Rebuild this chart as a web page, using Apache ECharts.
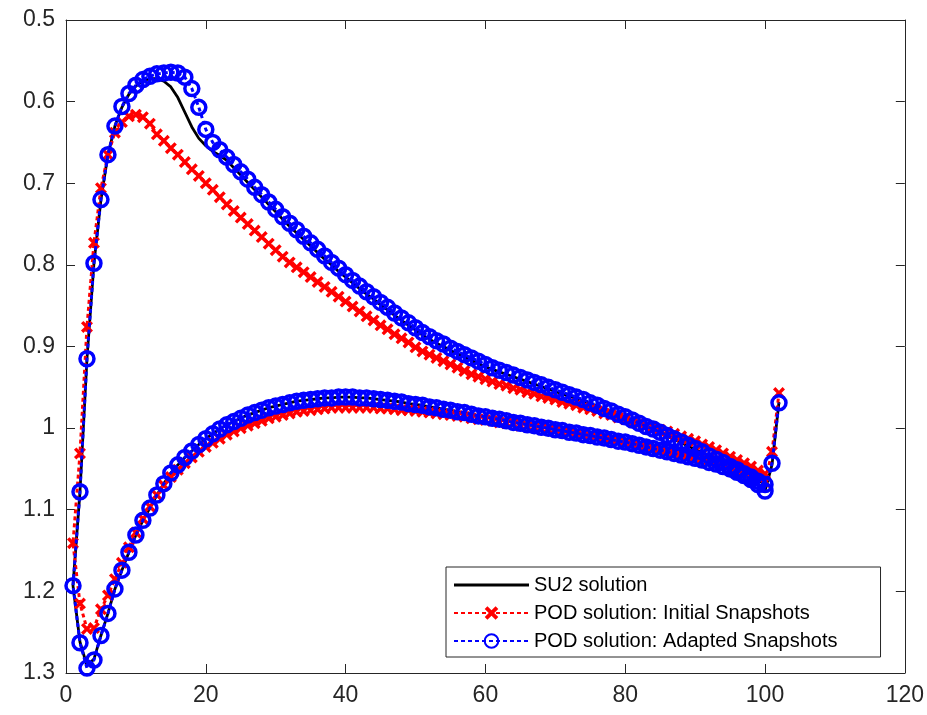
<!DOCTYPE html>
<html>
<head>
<meta charset="utf-8">
<script src="https://cdn.jsdelivr.net/npm/echarts@6.0.0/dist/echarts.min.js"></script>
<style>
    html, body { margin: 0; padding: 0; background: #fff; }
    #chart { width: 927px; height: 715px; }
</style>
</head>
<body>
<div id="chart"></div>
<script>
(function () {
    'use strict';

    var xTicks = [0, 20, 40, 60, 80, 100, 120];
    var yTicks = [0.5, 0.6, 0.7, 0.8, 0.9, 1.0, 1.1, 1.2, 1.3];

    var seriesNames = ['SU2 solution', 'POD solution: Initial Snapshots', 'POD solution: Adapted Snapshots'];

    // upper branch: point 1..100, lower branch: point 2..100, trailing edge: 101, 102
    var su2Upper = [
        1.193, 1.078, 0.915, 0.798, 0.720, 0.665, 0.630, 0.607, 0.591, 0.581,
        0.574, 0.572, 0.572, 0.575, 0.582, 0.595, 0.613, 0.631, 0.645, 0.654,
        0.661, 0.666, 0.672, 0.681, 0.690, 0.699, 0.708, 0.717, 0.726, 0.735,
        0.744, 0.753, 0.761, 0.769, 0.777, 0.785, 0.793, 0.800, 0.808, 0.815,
        0.822, 0.829, 0.836, 0.842, 0.849, 0.855, 0.862, 0.868, 0.874, 0.880,
        0.886, 0.891, 0.896, 0.900, 0.905, 0.909, 0.913, 0.917, 0.921, 0.925,
        0.928, 0.931, 0.934, 0.937, 0.940, 0.943, 0.946, 0.949, 0.952, 0.955,
        0.958, 0.961, 0.964, 0.967, 0.970, 0.973, 0.977, 0.980, 0.984, 0.987,
        0.991, 0.995, 0.998, 1.002, 1.006, 1.010, 1.014, 1.018, 1.022, 1.026,
        1.030, 1.034, 1.038, 1.042, 1.047, 1.051, 1.055, 1.059, 1.064, 1.068
    ];
    var su2Lower = [
        1.262, 1.291, 1.283, 1.254, 1.227, 1.197, 1.174, 1.152, 1.131,
        1.113, 1.098, 1.082, 1.068, 1.055, 1.045, 1.036, 1.028, 1.020, 1.013,
        1.007, 1.001, 0.996, 0.992, 0.988, 0.984, 0.981, 0.978, 0.975, 0.973,
        0.971, 0.969, 0.967, 0.966, 0.965, 0.964, 0.963, 0.963, 0.962, 0.962,
        0.962, 0.963, 0.963, 0.964, 0.965, 0.966, 0.967, 0.968, 0.970, 0.971,
        0.972, 0.974, 0.975, 0.977, 0.978, 0.980, 0.981, 0.983, 0.985, 0.986,
        0.988, 0.989, 0.991, 0.993, 0.994, 0.996, 0.997, 0.999, 1.000, 1.002,
        1.003, 1.005, 1.006, 1.008, 1.009, 1.011, 1.012, 1.014, 1.016, 1.017,
        1.019, 1.021, 1.023, 1.025, 1.027, 1.029, 1.031, 1.033, 1.035, 1.037,
        1.039, 1.042, 1.044, 1.047, 1.050, 1.054, 1.058, 1.063, 1.069, 1.077
    ];
    var su2Trail = [1.045, 0.968];

    var initUpper = [
        1.141, 1.031, 0.876, 0.773, 0.706, 0.665, 0.638, 0.625, 0.618, 0.616,
        0.619, 0.627, 0.640, 0.648, 0.657, 0.665, 0.674, 0.683, 0.691, 0.700,
        0.708, 0.717, 0.726, 0.734, 0.742, 0.750, 0.758, 0.766, 0.774, 0.782,
        0.790, 0.797, 0.803, 0.809, 0.815, 0.821, 0.827, 0.833, 0.839, 0.845,
        0.851, 0.857, 0.863, 0.868, 0.874, 0.879, 0.885, 0.890, 0.895, 0.901,
        0.906, 0.910, 0.914, 0.918, 0.922, 0.926, 0.930, 0.934, 0.937, 0.940,
        0.943, 0.946, 0.948, 0.951, 0.953, 0.956, 0.958, 0.961, 0.963, 0.965,
        0.968, 0.970, 0.972, 0.975, 0.977, 0.979, 0.982, 0.984, 0.987, 0.989,
        0.992, 0.994, 0.997, 0.999, 1.002, 1.004, 1.007, 1.010, 1.013, 1.016,
        1.020, 1.023, 1.027, 1.031, 1.035, 1.039, 1.043, 1.047, 1.052, 1.056
    ];
    var initLower = [
        1.215, 1.246, 1.245, 1.222, 1.205, 1.185, 1.165, 1.146, 1.128,
        1.111, 1.096, 1.082, 1.070, 1.060, 1.051, 1.043, 1.036, 1.029, 1.023,
        1.018, 1.013, 1.008, 1.004, 1.000, 0.997, 0.994, 0.991, 0.988, 0.986,
        0.984, 0.982, 0.980, 0.979, 0.978, 0.977, 0.976, 0.975, 0.975, 0.975,
        0.975, 0.975, 0.975, 0.975, 0.976, 0.976, 0.977, 0.978, 0.978, 0.979,
        0.980, 0.981, 0.982, 0.983, 0.984, 0.985, 0.986, 0.988, 0.989, 0.990,
        0.991, 0.993, 0.994, 0.995, 0.997, 0.998, 0.999, 1.001, 1.002, 1.003,
        1.005, 1.006, 1.007, 1.009, 1.010, 1.012, 1.013, 1.015, 1.016, 1.018,
        1.019, 1.021, 1.022, 1.024, 1.026, 1.027, 1.029, 1.031, 1.033, 1.035,
        1.037, 1.039, 1.041, 1.043, 1.045, 1.048, 1.051, 1.055, 1.060, 1.066
    ];
    var initTrail = [1.029, 0.957];

    var adaptUpper = [
        1.193, 1.078, 0.915, 0.798, 0.720, 0.665, 0.630, 0.606, 0.590, 0.580,
        0.573, 0.569, 0.566, 0.565, 0.564, 0.565, 0.570, 0.584, 0.607, 0.634,
        0.650, 0.659, 0.668, 0.677, 0.686, 0.695, 0.705, 0.714, 0.723, 0.732,
        0.741, 0.749, 0.757, 0.765, 0.773, 0.781, 0.789, 0.797, 0.804, 0.812,
        0.819, 0.826, 0.833, 0.839, 0.846, 0.852, 0.859, 0.865, 0.871, 0.877,
        0.883, 0.888, 0.893, 0.897, 0.902, 0.906, 0.910, 0.914, 0.918, 0.922,
        0.926, 0.929, 0.932, 0.935, 0.938, 0.941, 0.944, 0.947, 0.950, 0.953,
        0.956, 0.959, 0.962, 0.965, 0.969, 0.972, 0.976, 0.979, 0.983, 0.986,
        0.990, 0.994, 0.998, 1.001, 1.005, 1.009, 1.013, 1.017, 1.021, 1.025,
        1.029, 1.034, 1.038, 1.042, 1.047, 1.051, 1.056, 1.060, 1.065, 1.069
    ];
    var adaptLower = [
        1.263, 1.294, 1.284, 1.254, 1.227, 1.197, 1.174, 1.152, 1.131,
        1.113, 1.098, 1.082, 1.068, 1.055, 1.045, 1.036, 1.028, 1.020, 1.013,
        1.007, 1.001, 0.996, 0.992, 0.988, 0.984, 0.981, 0.978, 0.975, 0.973,
        0.971, 0.969, 0.967, 0.966, 0.965, 0.964, 0.963, 0.963, 0.962, 0.962,
        0.962, 0.963, 0.963, 0.964, 0.965, 0.966, 0.967, 0.968, 0.970, 0.971,
        0.972, 0.974, 0.975, 0.977, 0.978, 0.980, 0.981, 0.983, 0.985, 0.986,
        0.988, 0.989, 0.991, 0.993, 0.994, 0.996, 0.997, 0.999, 1.000, 1.002,
        1.003, 1.005, 1.006, 1.008, 1.009, 1.011, 1.012, 1.014, 1.016, 1.017,
        1.019, 1.021, 1.023, 1.025, 1.027, 1.029, 1.031, 1.033, 1.035, 1.037,
        1.039, 1.042, 1.044, 1.047, 1.050, 1.054, 1.058, 1.063, 1.069, 1.077
    ];
    var adaptTrail = [1.043, 0.969];

    var AXIS_COLOR = '#262626';
    var FONT = '"Liberation Sans", Arial, Helvetica, sans-serif';
    var CROSS = 'path://M0,2 L2,0 L5,3 L8,0 L10,2 L7,5 L10,8 L8,10 L5,7 L2,10 L0,8 L3,5 Z';

    paint('chart');

    // walk the surface: upper branch back to the leading edge, then the lower one out to the trailing edge
    function buildLoop(upper, lower, trail) {
        var points = [];
        for (var i = upper.length - 1; i >= 0; i--) {
            points.push([i + 1, upper[i]]);
        }
        for (var j = 0; j < lower.length; j++) {
            points.push([j + 2, lower[j]]);
        }
        for (var k = 0; k < trail.length; k++) {
            points.push([lower.length + 2 + k, trail[k]]);
        }
        return points;
    }

    function buildAxis(ticks, position, showLabel, inverse) {
        return {
            type: 'value',
            position: position,
            min: ticks[0],
            max: ticks[ticks.length - 1],
            interval: ticks[1] - ticks[0],
            inverse: inverse,
            axisLine: {show: true, onZero: false, lineStyle: {color: AXIS_COLOR, width: 1}},
            axisTick: {show: true, inside: true, length: 9, lineStyle: {color: AXIS_COLOR, width: 1}},
            axisLabel: {
                show: showLabel,
                color: AXIS_COLOR,
                fontSize: 23,
                fontFamily: FONT,
                margin: 11,
                formatter: function (v) {
                    return String(+v.toFixed(1));
                }
            },
            splitLine: {show: false}
        };
    }

    function paint(domId) {
        var chart = echarts.init(document.getElementById(domId), null, {renderer: 'canvas'});
        var option = {
            animation: false,
            backgroundColor: '#fff',
            grid: {left: 66, top: 20, right: 18, bottom: 42, containLabel: false},
            xAxis: [
                buildAxis(xTicks, 'bottom', true, false),
                buildAxis(xTicks, 'top', false, false)
            ],
            yAxis: [
                buildAxis(yTicks, 'left', true, true),
                buildAxis(yTicks, 'right', false, true)
            ],
            legend: {
                orient: 'vertical',
                left: 446,
                top: 567,
                padding: [8, 43, 6, 7],
                itemWidth: 75,
                itemHeight: 17,
                itemGap: 8,
                backgroundColor: '#fff',
                borderColor: AXIS_COLOR,
                borderWidth: 1,
                borderRadius: 0,
                selectedMode: false,
                textStyle: {color: '#000', fontSize: 20, fontFamily: FONT},
                data: [
                    {name: seriesNames[0], icon: 'path://M0,0 L75,0 L75,3 L0,3 Z'},
                    {name: seriesNames[1]},
                    {name: seriesNames[2]}
                ]
            },
            series: [
                {
                    name: seriesNames[0],
                    type: 'line',
                    data: buildLoop(su2Upper, su2Lower, su2Trail),
                    symbol: 'none',
                    lineStyle: {color: '#000', width: 2.8},
                    itemStyle: {color: '#000'},
                    z: 2
                },
                {
                    name: seriesNames[1],
                    type: 'line',
                    data: buildLoop(initUpper, initLower, initTrail),
                    symbol: CROSS,
                    symbolSize: 12,
                    showAllSymbol: true,
                    lineStyle: {color: '#ff0000', width: 3, type: [4, 3]},
                    itemStyle: {color: '#ff0000'},
                    z: 3
                },
                {
                    name: seriesNames[2],
                    type: 'line',
                    data: buildLoop(adaptUpper, adaptLower, adaptTrail),
                    symbol: 'circle',
                    symbolSize: 14,
                    showAllSymbol: true,
                    lineStyle: {color: '#0000ff', width: 3, type: [4, 3]},
                    itemStyle: {color: 'rgba(0,0,0,0)', borderColor: '#0000ff', borderWidth: 3.5},
                    z: 4
                }
            ]
        };
        chart.setOption(option);
    }
})();
</script>
</body>
</html>
